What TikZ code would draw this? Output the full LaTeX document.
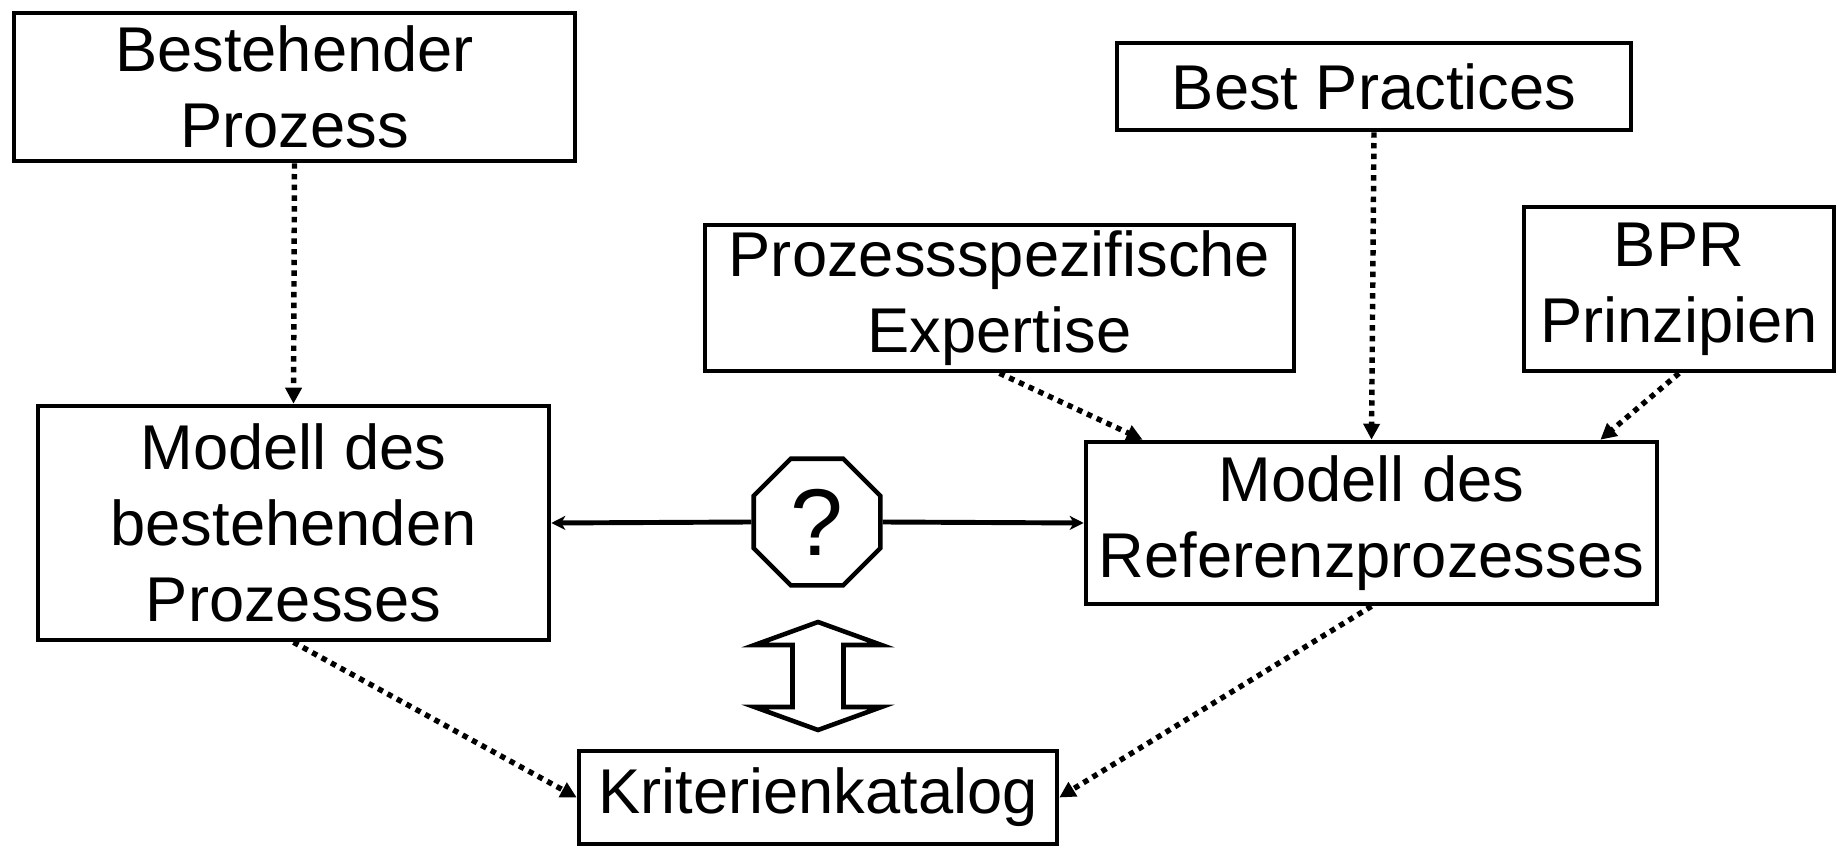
\documentclass[tikz,border=0pt]{standalone}
\usepackage{fontspec}
\setmainfont{Liberation Sans}
\usetikzlibrary{arrows.meta,positioning,shapes.geometric}

\begin{document}
\begin{tikzpicture}[font=\fontsize{18}{21.6}\selectfont]
\tikzstyle{box} = [draw, line width=1.3pt, align=center, inner sep=0pt]
\tikzstyle{input} = [line width=1.55pt, dash pattern=on 1.55pt off 1.5pt,
  -{Triangle[length=0.16cm, width=0.16cm]}]
\tikzstyle{link} = [line width=1.4pt, -{Stealth[length=0.14cm, width=0.14cm, inset=0.04cm]}]

\useasboundingbox (0,0) rectangle (18.38,8.48);

\node[box, minimum width=5.61cm, minimum height=1.48cm] (bestehend) at (2.945,7.61)
  {Bestehender\\Prozess};
\node[box, minimum width=5.14cm, minimum height=0.87cm] (practices) at (13.74,7.615)
  {Best Practices};
\node[box, minimum width=5.89cm, minimum height=1.46cm] (expertise) at (9.995,5.50)
  {Prozessspezifische\\Expertise};
\node[box, minimum width=3.10cm, minimum height=1.64cm] (bpr) at (16.79,5.59)
  {BPR\\Prinzipien};
\node[box, minimum width=5.11cm, minimum height=2.34cm] (istmodell) at (2.935,3.25)
  {Modell des\\bestehenden\\Prozesses};
\node[box, minimum width=5.71cm, minimum height=1.62cm] (refmodell) at (13.715,3.25)
  {Modell des\\Referenzprozesses};
\node[box, minimum width=4.78cm, minimum height=0.93cm] (katalog) at (8.18,0.505)
  {Kriterienkatalog};
\node[draw, line width=1.3pt, regular polygon, regular polygon sides=8,
  minimum size=1.37cm, inner sep=0pt, font=\fontsize{27}{30}\selectfont] (frage) at (8.17,3.26) {?};

\draw[input] (bestehend.south) -- (istmodell.north);
\draw[input] (practices.south) -- (refmodell.north);
\draw[input] (expertise.south) -- (refmodell.160);
\draw[input] (bpr.south) -- (refmodell.20);
\draw[input] (istmodell.south) -- (katalog.west);
\draw[input] (refmodell.south) -- (katalog.east);

\draw[link] (frage.west) -- (istmodell.east);
\draw[link] (frage.east) -- (refmodell.west);

\coordinate (vergleich) at (8.18,1.72);
\draw[line width=1.3pt, line join=miter] (vergleich) ++(0,0.54) -- ++(0.635,-0.23) -- ++(-0.38,0)
  -- ++(0,-0.62) -- ++(0.38,0) -- ++(-0.635,-0.23) -- ++(-0.635,0.23) -- ++(0.38,0)
  -- ++(0,0.62) -- ++(-0.38,0) -- cycle;
\end{tikzpicture}
\end{document}
